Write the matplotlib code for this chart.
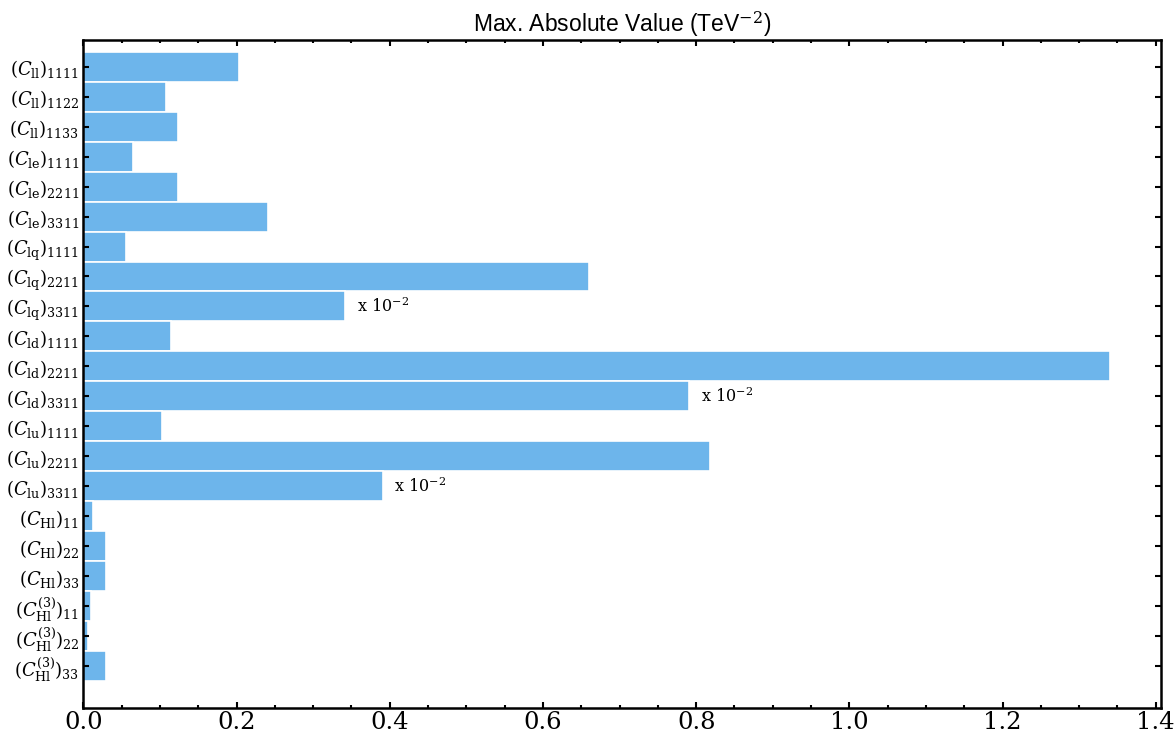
import numpy as np
import matplotlib
matplotlib.use("Agg")
import matplotlib.pyplot as plt
from matplotlib.ticker import MultipleLocator

plt.rcParams['mathtext.fontset'] = 'dejavuserif'
plt.rcParams['font.family'] = 'DejaVu Serif'

labels = [r"$(C_{\mathrm{ll}})_{1111}$", r"$(C_{\mathrm{ll}})_{1122}$", r"$(C_{\mathrm{ll}})_{1133}$",
          r"$(C_{\mathrm{le}})_{1111}$", r"$(C_{\mathrm{le}})_{2211}$", r"$(C_{\mathrm{le}})_{3311}$",
          r"$(C_{\mathrm{lq}})_{1111}$", r"$(C_{\mathrm{lq}})_{2211}$", r"$(C_{\mathrm{lq}})_{3311}$",
          r"$(C_{\mathrm{ld}})_{1111}$", r"$(C_{\mathrm{ld}})_{2211}$", r"$(C_{\mathrm{ld}})_{3311}$",
          r"$(C_{\mathrm{lu}})_{1111}$", r"$(C_{\mathrm{lu}})_{2211}$", r"$(C_{\mathrm{lu}})_{3311}$",
          r"$(C_{\mathrm{Hl}})_{11}$", r"$(C_{\mathrm{Hl}})_{22}$", r"$(C_{\mathrm{Hl}})_{33}$",
          r"$(C^{(3)}_{\mathrm{Hl}})_{11}$", r"$(C^{(3)}_{\mathrm{Hl}})_{22}$", r"$(C^{(3)}_{\mathrm{Hl}})_{33}$"]
values = [0.203, 0.108, 0.123,
          0.065, 0.123, 0.241,
          0.056, 0.660, 0.342,
          0.114, 1.340, 0.791,
          0.103, 0.818, 0.391,
          0.013, 0.029, 0.030,
          0.010, 0.006, 0.030]
scaled = [8, 11, 14]  # bars shown x 10^-2

fig, ax = plt.subplots(figsize=(11.74, 7.36), dpi=100)
fig.subplots_adjust(left=0.071, right=0.989, top=0.946, bottom=0.038)

y = np.arange(len(values))
ax.barh(y, values, height=1.0, color='#6db5eb', edgecolor='white', linewidth=1.2)

for i in scaled:
    ax.text(values[i] + 0.015, i, r"x $10^{-2}$", va='center', ha='left', fontsize=11.5)

ax.set_yticks(y)
ax.set_yticklabels(labels, fontsize=13)
ax.set_ylim(21.4, -0.9)
ax.set_xlim(0, max(values) * 1.05)
ax.xaxis.set_major_locator(MultipleLocator(0.2))
ax.xaxis.set_minor_locator(MultipleLocator(0.05))
ax.tick_params(axis='x', labelsize=17.5, pad=2)
ax.tick_params(axis='y', pad=3)
ax.tick_params(which='both', direction='in', top=True, right=True, width=1.5)
ax.tick_params(which='major', length=4)
ax.tick_params(which='minor', length=2.5)
for s in ax.spines.values():
    s.set_linewidth(1.8)

ax.set_title(r"Max. Absolute Value (TeV$^{-2}$)", fontsize=16.5, family='Liberation Sans', pad=2)

fig.savefig("out.png")
